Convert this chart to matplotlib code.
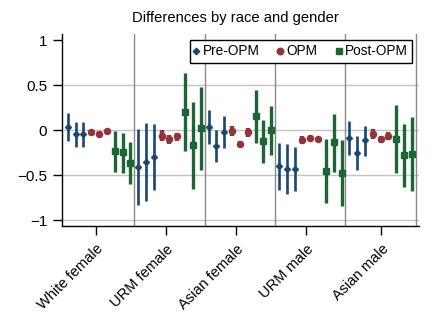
import numpy as np
import matplotlib
matplotlib.use('Agg')
import matplotlib.pyplot as plt
from matplotlib.lines import Line2D

plt.rcParams['font.family'] = ['Liberation Sans', 'DejaVu Sans']
plt.rcParams['font.size'] = 10.5

groups = ['White female', 'URM female', 'Asian female', 'URM male', 'Asian male']
periods = ['Pre-OPM', 'OPM', 'Post-OPM']

# estimate, lower, upper for each group: 3 pre, 3 OPM, 3 post
est = [
    [0.04, -0.045, -0.043, -0.015, -0.04, -0.005, -0.226, -0.241, -0.367],
    [-0.408, -0.352, -0.293, -0.06, -0.097, -0.067, 0.207, -0.163, 0.026],
    [0.04, -0.17, -0.015, -0.007, -0.152, -0.02, 0.155, -0.119, 0.003],
    [-0.397, -0.426, -0.426, -0.108, -0.089, -0.10, -0.449, -0.134, -0.471],
    [-0.082, -0.249, -0.111, -0.037, -0.10, -0.067, -0.097, -0.274, -0.267],
]
lo = [
    [-0.115, -0.185, -0.18, -0.035, -0.06, -0.025, -0.463, -0.475, -0.597],
    [-0.83, -0.785, -0.663, -0.122, -0.15, -0.118, -0.227, -0.652, -0.44],
    [-0.155, -0.348, -0.193, -0.062, -0.187, -0.07, -0.137, -0.36, -0.27],
    [-0.663, -0.704, -0.67, -0.148, -0.119, -0.13, -0.804, -0.46, -0.838],
    [-0.27, -0.437, -0.282, -0.092, -0.14, -0.112, -0.47, -0.627, -0.671],
]
hi = [
    [0.19, 0.09, 0.09, 0.005, -0.02, 0.015, -0.008, -0.033, -0.13],
    [0.015, 0.08, 0.07, 0.003, -0.056, -0.03, 0.64, 0.318, 0.485],
    [0.225, 0.003, 0.16, 0.048, -0.117, 0.03, 0.448, 0.115, 0.27],
    [-0.137, -0.152, -0.181, -0.068, -0.059, -0.07, -0.093, 0.181, -0.108],
    [0.103, -0.063, 0.048, 0.018, -0.06, -0.022, 0.282, 0.07, 0.148],
]
tick_pos = [4.1, 13.0, 22.0, 31.0, 40.6]

colors = ['#1a476f', '#90353b', '#1d6535']
markers = ['D', 'o', 's']
msizes = [3.0, 4.4, 4.0]
ewidths = [1.9, 3.2, 2.4]

fig = plt.figure(figsize=(4.4, 3.35), dpi=100)
ax = fig.add_axes([0.141, 0.3254, 0.8106, 0.5731])

est = np.array(est)
lo = np.array(lo)
hi = np.array(hi)

for yv in [0.5, 0, -0.5, -1]:
    ax.axhline(yv, color='#c4c4c4', lw=1.0, zorder=0)
for g in range(1, 6):
    ax.axvline(9 * g, color='#8a8a8a', lw=1.0, zorder=0)

for p in range(3):
    for g in range(5):
        idx = np.arange(3) + 3 * p
        x = 9 * g + idx + 0.5
        y = est[g, idx]
        ax.errorbar(x, y, yerr=[y - lo[g, idx], hi[g, idx] - y], fmt=markers[p],
                    color=colors[p], ms=msizes[p], mec=colors[p], elinewidth=ewidths[p],
                    capsize=0, zorder=3)

ax.set_xlim(-0.24, 45.37)
ax.set_ylim(-1.063, 1.07)
ax.set_yticks([1, 0.5, 0, -0.5, -1])
ax.set_yticklabels(['1', '0.5', '0', '\u22120.5', '\u22121'])
ax.set_xticks(tick_pos)
ax.set_xticklabels(groups, rotation=45, ha='right', va='top', rotation_mode='anchor')
ax.tick_params(axis='y', length=6.2, width=1, pad=4.5, labelsize=11)
ax.tick_params(axis='x', length=6.5, width=1, pad=5, labelsize=10.5)
for s in ['top', 'right']:
    ax.spines[s].set_visible(False)
for s in ['left', 'bottom']:
    ax.spines[s].set_linewidth(1.0)

ax.set_title('Differences by race and gender', fontsize=10.6, pad=9, x=0.486)

handles = [Line2D([], [], ls='none', marker=markers[i], color=colors[i],
                  ms=msizes[i] + 0.3) for i in range(3)]
leg = ax.legend(handles, periods, loc='upper right', ncol=3, fontsize=9.8,
                frameon=True, fancybox=False, framealpha=1, edgecolor='black',
                handlelength=0.3, handletextpad=0.32, columnspacing=1.4,
                borderpad=0.3, borderaxespad=0.47)
leg.get_frame().set_linewidth(1.0)

fig.savefig('out.png', dpi=100)
